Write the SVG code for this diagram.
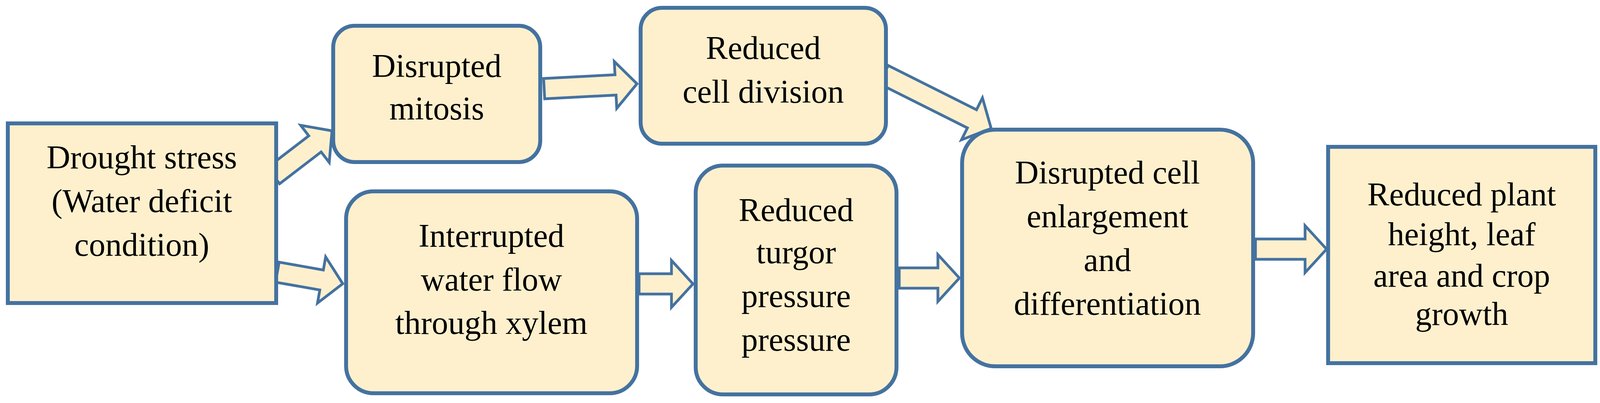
<svg xmlns="http://www.w3.org/2000/svg" width="4104" height="1032" viewBox="0 0 4104 1032">
<style>
.n{fill:#FEF0CD;stroke:#4472A0;stroke-width:10}
.a{fill:#FEF0CD;stroke:#4472A0;stroke-width:7;stroke-linejoin:miter}
text{font-family:"Liberation Serif","Times New Roman",serif;font-size:84px;fill:#000;text-anchor:middle}
</style>
<rect width="4104" height="1032" fill="#fff"/>
<g id="connectors">
<path class="a" transform="translate(700,450) rotate(-37.5)" d="M0,-26 H134 V-60 L189,0 L134,60 V26 H0 Z"/>
<path class="a" transform="translate(710,697) rotate(10)" d="M0,-26 H115 V-60 L170,0 L115,60 V26 H0 Z"/>
<path class="a" transform="translate(1393,227) rotate(-3)" d="M0,-26 H183 V-60 L238,0 L183,60 V26 H0 Z"/>
<path class="a" transform="translate(2262,191) rotate(26.6)" d="M0,-26 H253 V-60 L308,0 L253,60 V26 H0 Z"/>
<path class="a" transform="translate(1636,727)" d="M0,-26 H83 V-60 L138,0 L83,60 V26 H0 Z"/>
<path class="a" transform="translate(2302,712)" d="M0,-26 H99 V-60 L154,0 L99,60 V26 H0 Z"/>
<path class="a" transform="translate(3214,638)" d="M0,-26 H127 V-60 L182,0 L127,60 V26 H0 Z"/>
</g>
<g id="drought"><rect class="n" x="20" y="316" width="687" height="460"/>
<text x="363" y="431">Drought stress</text><text x="363" y="543">(Water deficit</text><text x="363" y="655">condition)</text></g>
<g id="mitosis"><rect class="n" x="853" y="66" width="530" height="349" rx="55"/>
<text x="1118" y="197">Disrupted</text><text x="1118" y="306">mitosis</text></g>
<g id="celldivision"><rect class="n" x="1640" y="20" width="628" height="348" rx="55"/>
<text x="1954" y="151">Reduced</text><text x="1954" y="263">cell division</text></g>
<g id="xylem"><rect class="n" x="886" y="490" width="745" height="517" rx="70"/>
<text x="1258" y="632">Interrupted</text><text x="1258" y="744">water flow</text><text x="1258" y="855">through xylem</text></g>
<g id="turgor"><rect class="n" x="1781" y="424" width="514" height="586" rx="70"/>
<text x="2038" y="566">Reduced</text><text x="2038" y="674">turgor</text><text x="2038" y="786">pressure</text><text x="2038" y="898">pressure</text></g>
<g id="enlargement"><rect class="n" x="2463" y="332" width="745" height="606" rx="85"/>
<text x="2835" y="470">Disrupted cell</text><text x="2835" y="582">enlargement</text><text x="2835" y="694">and</text><text x="2835" y="806">differentiation</text></g>
<g id="growth"><rect class="n" x="3400" y="376" width="684" height="554"/>
<text x="3742" y="526">Reduced plant</text><text x="3742" y="628">height, leaf</text><text x="3742" y="734">area and crop</text><text x="3742" y="832">growth</text></g>
</svg>
